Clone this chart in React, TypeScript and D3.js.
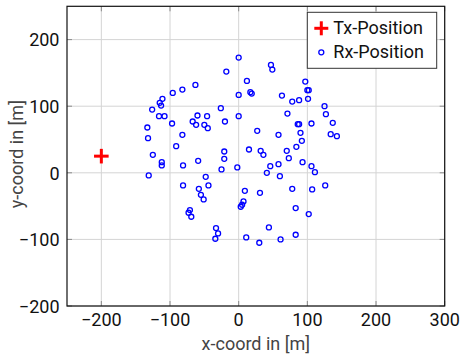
import React, { useEffect, useRef } from "react";
import * as d3 from "d3";

// receiver positions (metres)
const rxX = [
  0, -18, -63, -82, -96, -111, -115, -113, -126, -26, 0, 0, -116, -108, -97, -60, -46, -67, -62, -50,
  -45, -20, -133, -132, -82, -91, -125, -112, -112, -81, -59, -21, -21, -25, -2, -131, -48,
  -81, -44, -58, -55, -51, -71, -73, -69, -33, -30, -34,
  47, 49, 12, 97, 100, 102, 17, 19, 63, 78, 88, 101, 125, 127, 71, 137, 86, 88, 106, 134, 143,
  27, 58, 90, 92, 84, 15, 32, 36, 70, 73, 93, 58, 46, 41, 60, 106, 111,
  126, 9, 31, 78, 107, 7, 5, 3, 83, 102, 44, 11, 30, 61, 83,
];
const rxY = [
  173, 152, 132, 125, 120, 111, 105, 101, 95, 97, 117, 85, 85, 85, 74, 86, 85, 77, 72, 72,
  67, 77, 68, 52, 57, 40, 27, 16, 11, 11, 18, 32, 21, 5, 8, -4, -6,
  -19, -19, -24, -33, -40, -56, -60, -66, -83, -91, -99,
  162, 155, 138, 137, 124, 124, 121, 119, 116, 107, 109, 111, 100, 88, 89, 75, 73, 73, 74, 58, 55,
  63, 57, 60, 48, 39, 35, 33, 27, 33, 22, 16, 13, 10, 0, -5, 10, 1,
  -19, -27, -30, -24, -25, -43, -48, -51, -53, -62, -82, -97, -105, -100, -93,
];
const txX = [-200];
const txY = [25];

const xTicks = [-200, -100, 0, 100, 200, 300];
const yTicks = [-200, -100, 0, 100, 200];
const legendLabels = ["Tx-Position", "Rx-Position"];

export default function App() {
  const svgRef = useRef<SVGSVGElement>(null);

  useEffect(() => {
    const width = 461;
    const height = 355;
    const margin = { top: 6.3, right: 16.3, bottom: 49, left: 67 };
    const font = "Roboto, 'Open Sans', sans-serif";

    const svg = d3.select(svgRef.current);
    svg.selectAll("*").remove();
    svg.attr("width", width).attr("height", height);

    const x = d3.scaleLinear().domain([-250, 300]).range([margin.left, width - margin.right]);
    const y = d3.scaleLinear().domain([-200, 250]).range([height - margin.bottom, margin.top]);
    const fmt = (v: number) => (v < 0 ? "\u2212" + Math.abs(v) : String(v));

    svg.append("rect").attr("width", width).attr("height", height).attr("fill", "#fff");

    // grid
    const grid = svg.append("g").attr("stroke", "#d4d4d4").attr("stroke-width", 1);
    grid
      .selectAll("line.vx")
      .data(xTicks)
      .join("line")
      .attr("class", "vx")
      .attr("x1", (d) => x(d))
      .attr("x2", (d) => x(d))
      .attr("y1", y(-200))
      .attr("y2", y(250));
    grid
      .selectAll("line.hy")
      .data(yTicks)
      .join("line")
      .attr("class", "hy")
      .attr("x1", x(-250))
      .attr("x2", x(300))
      .attr("y1", (d) => y(d))
      .attr("y2", (d) => y(d));

    // small inward ticks
    const tk = svg.append("g").attr("stroke", "#8a8a8a").attr("stroke-width", 1);
    xTicks.forEach((t) => {
      tk.append("line").attr("x1", x(t)).attr("x2", x(t)).attr("y1", y(-200)).attr("y2", y(-200) - 5);
      tk.append("line").attr("x1", x(t)).attr("x2", x(t)).attr("y1", y(250)).attr("y2", y(250) + 5);
    });
    yTicks.forEach((t) => {
      tk.append("line").attr("x1", x(-250)).attr("x2", x(-250) + 5).attr("y1", y(t)).attr("y2", y(t));
      tk.append("line").attr("x1", x(300)).attr("x2", x(300) - 5).attr("y1", y(t)).attr("y2", y(t));
    });

    // frame
    svg
      .append("rect")
      .attr("x", x(-250))
      .attr("y", y(250))
      .attr("width", x(300) - x(-250))
      .attr("height", y(-200) - y(250))
      .attr("fill", "none")
      .attr("stroke", "#111")
      .attr("stroke-width", 1.2);

    // tick labels
    svg
      .append("g")
      .selectAll("text")
      .data(xTicks)
      .join("text")
      .attr("x", (d) => x(d))
      .attr("y", y(-200) + 20)
      .attr("text-anchor", "middle")
      .style("font-family", font)
      .style("font-size", "18px")
      .attr("fill", "#111")
      .text((d) => fmt(d));
    svg
      .append("g")
      .selectAll("text")
      .data(yTicks)
      .join("text")
      .attr("x", x(-250) - 7.5)
      .attr("y", (d) => y(d) + 6.7)
      .attr("text-anchor", "end")
      .style("font-family", font)
      .style("font-size", "18px")
      .attr("fill", "#111")
      .text((d) => fmt(d));

    // axis labels
    svg
      .append("text")
      .attr("x", (x(-250) + x(300)) / 2)
      .attr("y", 350)
      .attr("text-anchor", "middle")
      .style("font-family", font)
      .style("font-size", "18px")
      .attr("fill", "#444")
      .text("x-coord in [m]");
    svg
      .append("text")
      .attr("transform", `translate(22.5,${(y(-200) + y(250)) / 2 - 2}) rotate(-90)`)
      .attr("text-anchor", "middle")
      .style("font-family", font)
      .style("font-size", "18px")
      .attr("fill", "#444")
      .text("y-coord in [m]");

    // receivers
    const rx = rxX.map((v, i) => ({ x: v, y: rxY[i] }));
    svg
      .append("g")
      .selectAll("circle")
      .data(rx)
      .join("circle")
      .attr("cx", (d) => x(d.x))
      .attr("cy", (d) => y(d.y))
      .attr("r", 2.5)
      .attr("fill", "none")
      .attr("stroke", "#0000ff")
      .attr("stroke-width", 1.3);

    // transmitter (red plus)
    const tx = txX.map((v, i) => ({ x: v, y: txY[i] }));
    const txG = svg.append("g").attr("stroke", "#ff0000").attr("stroke-width", 3);
    tx.forEach((d) => {
      const cx = x(d.x);
      const cy = y(d.y);
      txG.append("line").attr("x1", cx - 7.3).attr("x2", cx + 7.3).attr("y1", cy).attr("y2", cy);
      txG.append("line").attr("x1", cx).attr("x2", cx).attr("y1", cy - 7.3).attr("y2", cy + 7.3);
    });

    // legend
    const legend = svg.append("g").attr("transform", "translate(307.3,12.3)");
    legend
      .append("rect")
      .attr("width", 129.4)
      .attr("height", 56)
      .attr("fill", "#fff")
      .attr("stroke", "#333")
      .attr("stroke-width", 1);
    legend.append("line").attr("x1", 7).attr("x2", 21).attr("y1", 16).attr("y2", 16).attr("stroke", "#ff0000").attr("stroke-width", 3);
    legend.append("line").attr("x1", 14).attr("x2", 14).attr("y1", 9).attr("y2", 23).attr("stroke", "#ff0000").attr("stroke-width", 3);
    legend
      .append("circle")
      .attr("cx", 14)
      .attr("cy", 40)
      .attr("r", 2.5)
      .attr("fill", "none")
      .attr("stroke", "#0000ff")
      .attr("stroke-width", 1.3);
    legendLabels.forEach((lab, i) => {
      legend
        .append("text")
        .attr("x", 26)
        .attr("y", 22 + i * 24)
        .style("font-family", font)
        .style("font-size", "18px")
        .attr("fill", "#111")
        .text(lab);
    });
  }, []);

  return <svg ref={svgRef} style={{ position: "absolute", left: 0, top: 0 }}></svg>;
}
